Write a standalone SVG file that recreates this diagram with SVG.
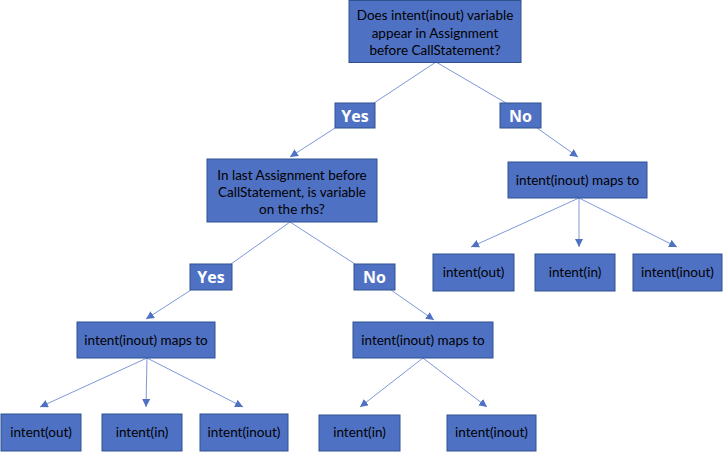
<svg xmlns="http://www.w3.org/2000/svg" width="723" height="452" viewBox="0 0 723 452">
<style>
.box{fill:#4F71C3;stroke:#2F528F;stroke-width:1}
.t{font-family:Lato,"Open Sans","Liberation Sans",sans-serif;font-size:13.5px;fill:#000;text-anchor:middle}
.lbl{font-family:"Open Sans","Liberation Sans",sans-serif;font-size:16px;font-weight:bold;fill:#fff;text-anchor:middle}
.c{stroke:#7F98D8;stroke-width:1;fill:none}
.a{marker-end:url(#ah)}
</style>
<defs>
<marker id="ah" markerUnits="userSpaceOnUse" markerWidth="10" markerHeight="10" refX="8" refY="4" orient="auto">
<path d="M0,0 L8,4 L0,8 z" fill="#4F71C3"/>
</marker>
</defs>
<rect width="723" height="452" fill="#fff"/>
<g id="connectors">
<line class="c" x1="436" y1="62" x2="374" y2="103"/>
<line class="c" x1="436" y1="62" x2="506" y2="103"/>
<line class="c a" x1="335" y1="128" x2="290" y2="157"/>
<line class="c a" x1="537" y1="128" x2="578" y2="157"/>
<line class="c" x1="290" y1="222" x2="231" y2="264"/>
<line class="c" x1="290" y1="222" x2="355" y2="264"/>
<line class="c a" x1="191" y1="290" x2="146" y2="319"/>
<line class="c a" x1="391" y1="290" x2="434" y2="320"/>
<line class="c a" x1="147" y1="358" x2="40" y2="407"/>
<line class="c a" x1="147" y1="358" x2="146" y2="407"/>
<line class="c a" x1="147" y1="358" x2="243" y2="407"/>
<line class="c a" x1="579" y1="198" x2="471" y2="247"/>
<line class="c a" x1="579" y1="198" x2="579" y2="247"/>
<line class="c a" x1="579" y1="198" x2="677" y2="247"/>
<line class="c a" x1="423" y1="358" x2="360" y2="407"/>
<line class="c a" x1="423" y1="358" x2="487" y2="407"/>
</g>
<g id="q1">
<rect class="box" x="349" y="0.5" width="172" height="62"/>
<text class="t" x="435" y="20">Does intent(inout) variable</text>
<text class="t" x="435" y="38">appear in Assignment</text>
<text class="t" x="435" y="55">before CallStatement?</text>
</g>
<g id="yes1">
<rect class="box" x="335" y="103" width="40" height="25"/>
<text class="lbl" x="355" y="121.5">Yes</text>
</g>
<g id="no1">
<rect class="box" x="500" y="103" width="41" height="25"/>
<text class="lbl" x="520.5" y="121.5">No</text>
</g>
<g id="q2">
<rect class="box" x="207" y="159" width="170" height="63"/>
<text class="t" x="292" y="180">In last Assignment before</text>
<text class="t" x="292" y="197">CallStatement, is variable</text>
<text class="t" x="292" y="214">on the rhs?</text>
</g>
<g id="yes2">
<rect class="box" x="190" y="264" width="42" height="26"/>
<text class="lbl" x="211" y="283">Yes</text>
</g>
<g id="no2">
<rect class="box" x="354" y="264" width="41" height="26"/>
<text class="lbl" x="374.5" y="283">No</text>
</g>
<g id="mapR">
<rect class="box" x="508" y="162" width="139" height="36"/>
<text class="t" x="577.5" y="185">intent(inout) maps to</text>
</g>
<g id="mapL">
<rect class="box" x="77" y="322" width="138" height="36"/>
<text class="t" x="146" y="345">intent(inout) maps to</text>
</g>
<g id="mapM">
<rect class="box" x="353" y="322" width="140" height="36"/>
<text class="t" x="423" y="345">intent(inout) maps to</text>
</g>
<g id="rOut">
<rect class="box" x="433" y="254" width="81" height="37"/>
<text class="t" x="473.5" y="277">intent(out)</text>
</g>
<g id="rIn">
<rect class="box" x="535" y="254" width="80" height="37"/>
<text class="t" x="575" y="277">intent(in)</text>
</g>
<g id="rInout">
<rect class="box" x="633" y="254" width="89" height="37"/>
<text class="t" x="677.5" y="277">intent(inout)</text>
</g>
<g id="lOut">
<rect class="box" x="1" y="414" width="80" height="37"/>
<text class="t" x="41" y="437">intent(out)</text>
</g>
<g id="lIn">
<rect class="box" x="102" y="414" width="80" height="37"/>
<text class="t" x="142" y="437">intent(in)</text>
</g>
<g id="lInout">
<rect class="box" x="200" y="414" width="88" height="37"/>
<text class="t" x="244" y="437">intent(inout)</text>
</g>
<g id="mIn">
<rect class="box" x="319" y="415" width="81" height="36"/>
<text class="t" x="359.5" y="437">intent(in)</text>
</g>
<g id="mInout">
<rect class="box" x="447" y="415" width="89" height="36"/>
<text class="t" x="491.5" y="437">intent(inout)</text>
</g>
</svg>
